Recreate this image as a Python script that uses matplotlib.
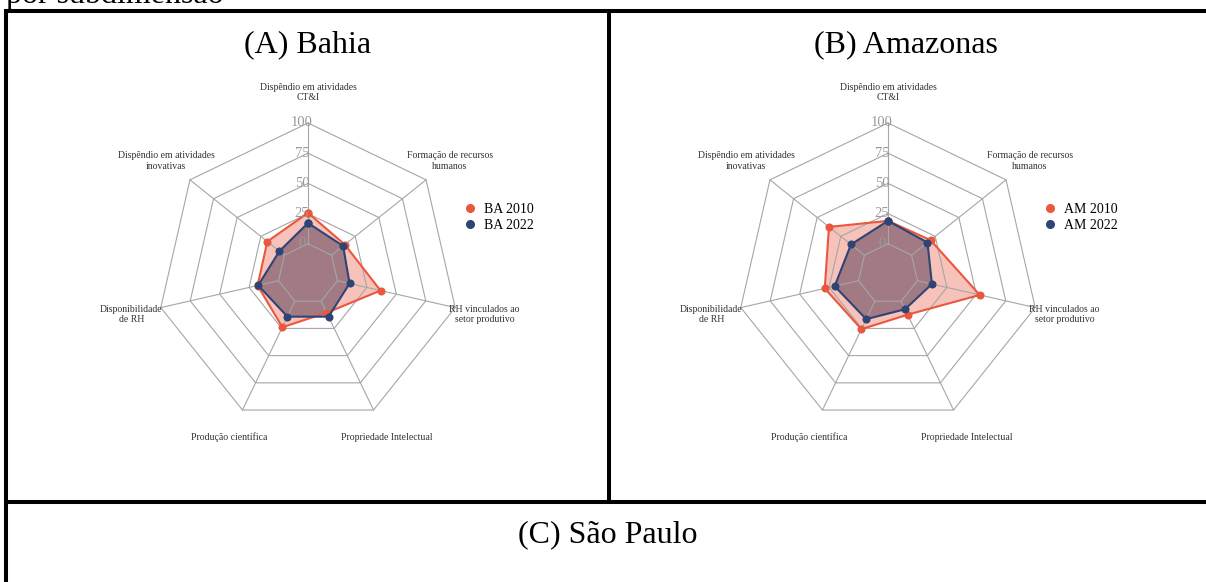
import numpy as np
import matplotlib
matplotlib.use("Agg")
import matplotlib.pyplot as plt
from matplotlib.lines import Line2D

plt.rcParams["font.family"] = ["Liberation Serif", "DejaVu Serif"]

# ---- data ---------------------------------------------------------------
categories = [
    "Dispêndio em atividades\nCT&I",
    "Formação de recursos\nhumanos",
    "RH vinculados ao\nsetor produtivo",
    "Propriedade Intelectual",
    "Produção científica",
    "Disponibilidade\nde RH",
    "Dispêndio em atividades\ninovativas",
]
radial_ticks = [0, 25, 50, 75, 100]

ba_2010 = [25.6, 14.0, 36.6, 10.6, 23.9, 17.8, 18.1]
ba_2022 = [17.2, 12.2, 10.3, 14.2, 14.2, 17.3, 5.3]
am_2010 = [19.0, 20.0, 52.9, 12.4, 25.7, 28.7, 37.5]
am_2022 = [19.0, 16.8, 12.3, 7.4, 16.5, 20.3, 14.2]

panel_titles = ["(A) Bahia", "(B) Amazonas", "(C) São Paulo"]
legend_a = ["BA 2010", "BA 2022"]
legend_b = ["AM 2010", "AM 2022"]

# ---- style ----------------------------------------------------------------
W, H = 1206, 582
ORANGE = "#E9573E"
BLUE = "#2E4474"
BLUE_FILL = "#4d3450"
GRID = "#a6a6a6"
TICK = "#9a9a9a"
R_PX = 151  # radius of the outer ring in pixels

fig = plt.figure(figsize=(W / 100, H / 100), dpi=100)
fig.patch.set_facecolor("white")


def fx(px):
    return px / W


def fy(py):
    return 1 - py / H


def radar(cx, cy, series, labels):
    ax = fig.add_axes([fx(cx - R_PX), fy(cy + R_PX), 2 * R_PX / W, 2 * R_PX / H],
                      projection="polar")
    ax.set_theta_offset(np.pi / 2)
    ax.set_theta_direction(-1)
    ax.set_ylim(0, 100)
    ax.set_rorigin(-25)
    ax.set_axis_off()

    n = len(categories)
    theta = np.arange(n) * 2 * np.pi / n
    theta_c = np.append(theta, theta[0])

    # heptagonal rings and spokes
    for v in radial_ticks:
        ax.plot(theta_c, [v] * (n + 1), color=GRID, lw=0.8, zorder=3, clip_on=False)
    for t in theta:
        ax.plot([t, t], [0, 100], color=GRID, lw=0.8, zorder=3, clip_on=False)

    fills = [(ORANGE, 0.36, ORANGE), (BLUE_FILL, 0.5, BLUE)]
    for vals, (fcol, alpha, lcol) in zip(series, fills):
        v_c = np.append(vals, vals[0])
        ax.fill(theta_c, v_c, color=fcol, alpha=alpha, lw=0, zorder=2, clip_on=False)
        ax.plot(theta_c, v_c, color=lcol, lw=1.5, marker="o", ms=4.8, zorder=4,
                clip_on=False)

    # radial tick labels along the top spoke
    for v in radial_ticks:
        ax.annotate(str(v), xy=(0, v), xytext=(-6, 0), textcoords="offset pixels",
                    ha="center", va="center", fontsize=10.5, color=TICK, zorder=6,
                    annotation_clip=False)

    # category labels outside the outer ring
    for t, lab in zip(theta, categories):
        ax.text(t, 125, lab, ha="center", va="center", fontsize=7,
                color="#333333", linespacing=1.2, multialignment="center")

    handles = [Line2D([], [], ls="none", marker="o", ms=5.5, color=c) for c in (ORANGE, BLUE)]
    fig.legend(handles, labels, loc="upper left",
               bbox_to_anchor=(fx(cx + 158), fy(203)), frameon=False,
               fontsize=10, handlelength=0.6, handletextpad=0.7,
               labelspacing=0.22, borderpad=0, borderaxespad=0)
    return ax


radar(308, 274, [ba_2010, ba_2022], legend_a)
radar(888, 274, [am_2010, am_2022], legend_b)

# ---- table frame and titles ----------------------------------------------
def frame_line(x0, y0, x1, y1):
    fig.add_artist(Line2D([fx(x0), fx(x1)], [fy(y0), fy(y1)], color="black",
                          lw=2.9, solid_capstyle="butt"))


frame_line(4, 11, W, 11)
frame_line(6, 9, 6, H)
frame_line(609, 11, 609, 502)
frame_line(4, 502, W, 502)

fig.text(fx(6), fy(3), "por subdimensão", ha="left", va="baseline", fontsize=23)
fig.text(fx(308), fy(52.5), panel_titles[0], ha="center", va="baseline", fontsize=23)
fig.text(fx(906), fy(52.5), panel_titles[1], ha="center", va="baseline", fontsize=23)
fig.text(fx(608), fy(542), panel_titles[2], ha="center", va="baseline", fontsize=23)

fig.savefig("out.png", dpi=100, facecolor="white")
